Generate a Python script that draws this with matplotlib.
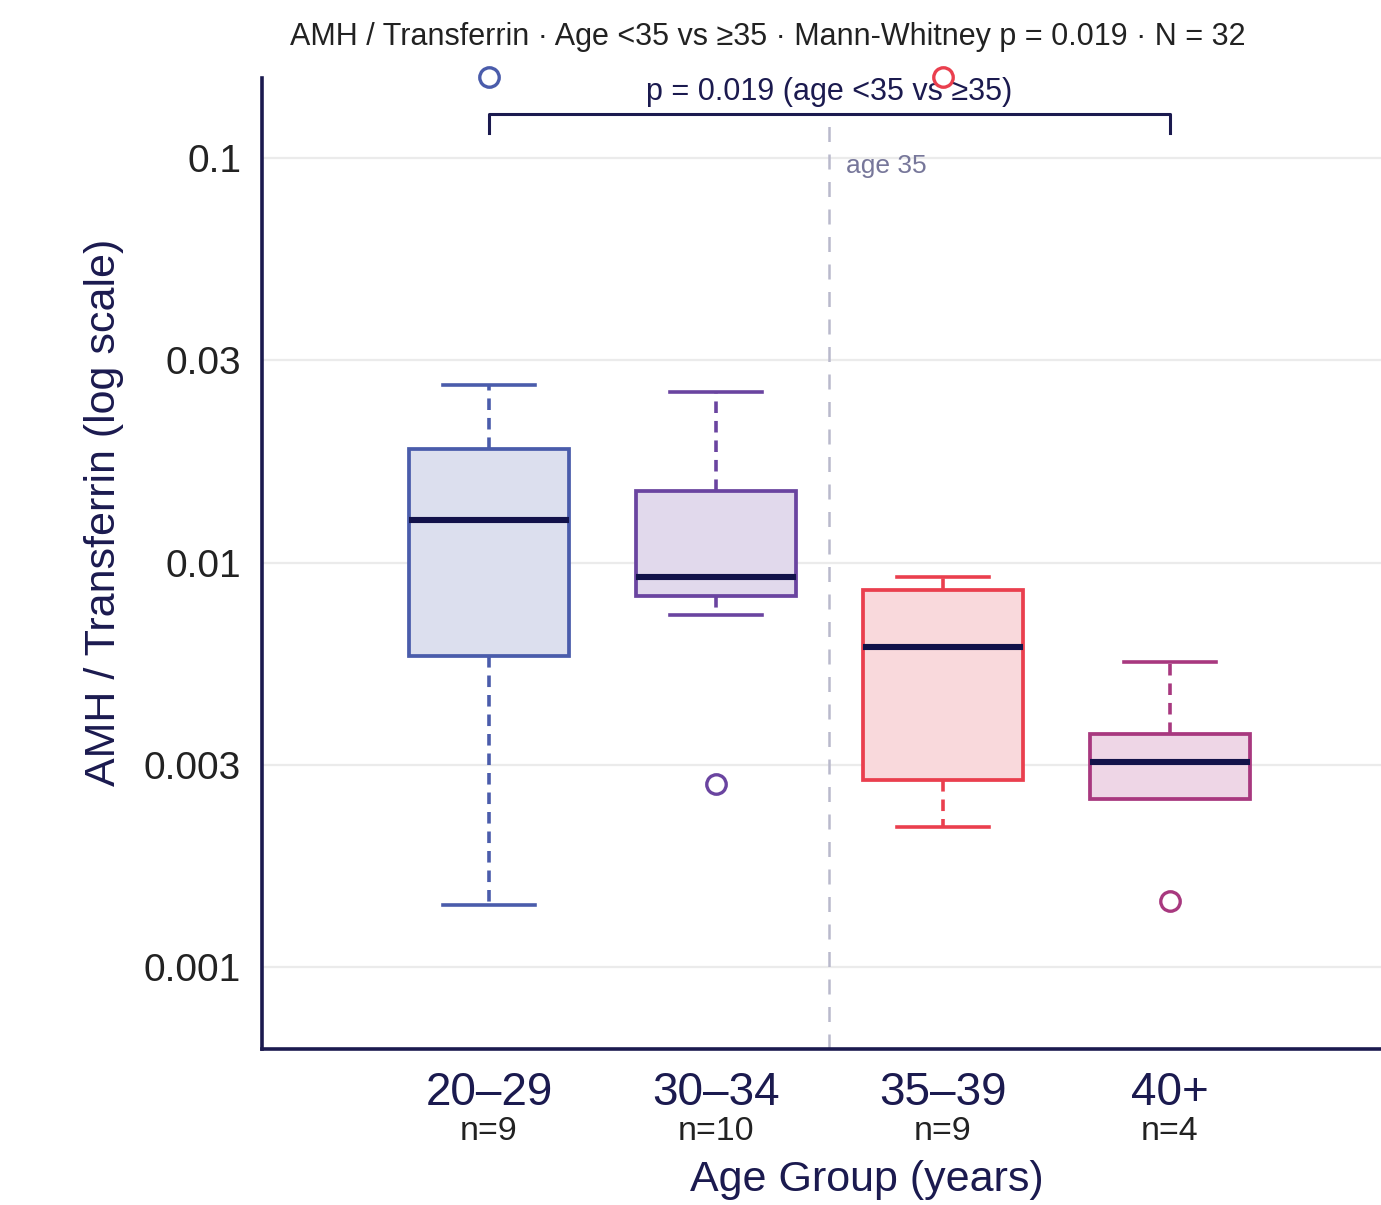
import matplotlib
matplotlib.use("Agg")
import matplotlib.pyplot as plt

plt.rcParams['font.family'] = ['Liberation Sans', 'DejaVu Sans']

# data
groups = ['20–29', '30–34', '35–39', '40+']
counts = [9, 10, 9, 4]
whislo = [0.00142, 0.00741, 0.00222, 0.00314]
q1 = [0.00588, 0.00826, 0.00290, 0.00260]
med = [0.01274, 0.00920, 0.00618, 0.00321]
q3 = [0.0191, 0.01503, 0.00855, 0.00377]
whishi = [0.0275, 0.02639, 0.00920, 0.00568]
fliers = [[0.1585], [0.00283], [0.1585], [0.001455]]
yticks = [10 ** -3, 10 ** -2.5, 10 ** -2, 10 ** -1.5, 10 ** -1]
ytick_labels = ['0.001', '0.003', '0.01', '0.03', '0.1']

colors = ['#4a5cab', '#6a44a0', '#ea3f4e', '#a8387f']
fills = ['#dcdfee', '#e1d9ec', '#f9d9dc', '#eed6e6']
navy = '#1b1a4f'

fig = plt.figure(figsize=(13.81, 12.05), dpi=100)
ax = fig.add_axes([262 / 1381, 1 - 1049 / 1205, 1 - 262 / 1381, (1049 - 78) / 1205])

stats = []
for i in range(len(groups)):
    stats.append({'whislo': whislo[i], 'q1': q1[i], 'med': med[i], 'q3': q3[i],
                  'whishi': whishi[i], 'fliers': fliers[i]})

pos = list(range(len(groups)))
bp = ax.bxp(stats, positions=pos, widths=0.705, patch_artist=True,
            capwidths=0.405, manage_ticks=False,
            medianprops=dict(color='#12124a', lw=4.4, solid_capstyle='butt'))

for i, c in enumerate(colors):
    bp['boxes'][i].set(facecolor=fills[i], edgecolor=c, lw=2.7, zorder=3)
    bp['medians'][i].set_zorder(4)
    for w in bp['whiskers'][2 * i:2 * i + 2]:
        w.set(color=c, lw=2.6, linestyle=(0, (3.2, 2.2)), zorder=2)
    for cp in bp['caps'][2 * i:2 * i + 2]:
        cp.set(color=c, lw=2.6, zorder=2)
    bp['fliers'][i].set(marker='o', markersize=14, markerfacecolor='white',
                        markeredgecolor=c, markeredgewidth=2.4, clip_on=False, zorder=6)

ax.set_yscale('log')
ax.set_ylim(0.000627, 0.1577)
ax.set_xlim(-1.0, 3.93)
ax.set_yticks(yticks)
ax.set_yticklabels(ytick_labels)
ax.yaxis.set_minor_locator(matplotlib.ticker.NullLocator())
ax.tick_params(axis='y', length=0, pad=15, labelsize=28, labelcolor='#222222')
ax.set_xticks(pos)
ax.set_xticklabels(groups)
ax.tick_params(axis='x', length=0, pad=16, labelsize=33, labelcolor=navy)
ax.grid(axis='y', color='#ebebeb', lw=1.6)
ax.set_axisbelow(True)

for s in ['top', 'right']:
    ax.spines[s].set_visible(False)
for s in ['left', 'bottom']:
    ax.spines[s].set_color(navy)
    ax.spines[s].set_linewidth(2.6)

# n labels under the group names
for i, n in enumerate(counts):
    ax.annotate(f'n={n}', xy=(i, 0), xycoords=('data', 'axes fraction'),
                xytext=(0, -83), textcoords='offset pixels',
                ha='center', va='center', fontsize=24.5, color='#222222')

# age 35 divider
ax.vlines(1.5, 0.000627, 0.128, colors='#b9b9cc', lw=1.8, linestyles=(0, (6, 5)), zorder=1)
ax.text(1.575, 0.0955, 'age 35', ha='left', va='center', fontsize=19, color='#77779a')

# significance bracket
ax.plot([0, 0, 3, 3], [0.1153, 0.1285, 0.1285, 0.1153], color=navy, lw=2.2,
        clip_on=False, zorder=5)
ax.text(1.5, 0.1456, 'p = 0.019 (age <35 vs ≥35)', ha='center', va='center',
        fontsize=22, color=navy, zorder=5)

fig.text(768 / 1381, 1 - 37 / 1205,
         'AMH / Transferrin · Age <35 vs ≥35 · Mann-Whitney p = 0.019 · N = 32',
         ha='center', va='center', fontsize=22, color='#222222')
fig.text(867 / 1381, 1 - 1180 / 1205, 'Age Group (years)', ha='center', va='center',
         fontsize=31, color=navy)
fig.text(104 / 1381, 1 - 512 / 1205, 'AMH / Transferrin (log scale)', ha='center',
         va='center', rotation=90, fontsize=31, color=navy)

fig.savefig('out.png', dpi=100)
